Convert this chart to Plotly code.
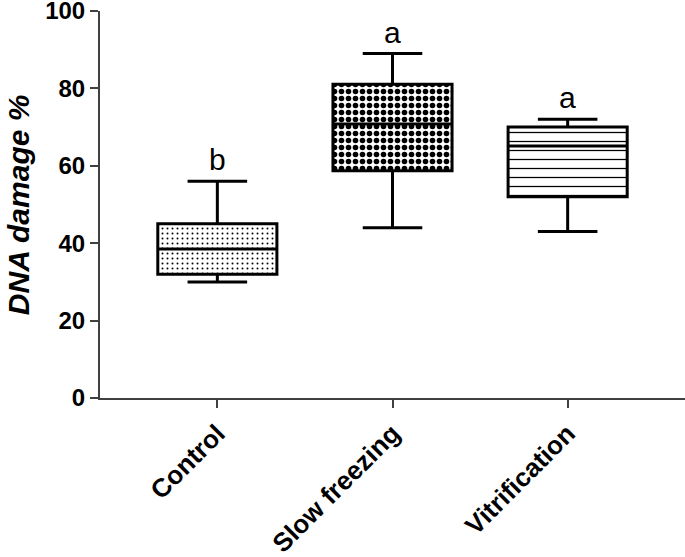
import plotly.graph_objects as go

groups = ['Control', 'Slow freezing', 'Vitrification']
minimum = [30, 44, 43]
q1 = [32, 58.7, 52]
median = [38.5, 70.8, 65.1]
q3 = [45, 81.1, 70]
maximum = [56, 89, 72]
letters = ['b', 'a', 'a']

shapes = ['.', '.', '-']
sizes = [5, 7, 9]
solid = [0.12, 0.5, 0.14]

font = 'Liberation Sans, Arial, sans-serif'

fig = go.Figure()

# patterned fill of each box, drawn as a bar from Q1 to Q3
fig.add_trace(go.Bar(
    x=groups,
    y=[b - a for a, b in zip(q1, q3)],
    base=q1,
    width=0.68,
    marker=dict(
        color='white',
        line=dict(width=0),
        pattern=dict(shape=shapes, size=sizes, solidity=solid,
                     fgcolor='black', bgcolor='white', fillmode='replace'),
    ),
    hoverinfo='skip',
    showlegend=False,
))

# outline, median and min-max whiskers
fig.add_trace(go.Box(
    x=groups,
    q1=q1,
    median=median,
    q3=q3,
    lowerfence=minimum,
    upperfence=maximum,
    width=0.68,
    whiskerwidth=0.5,
    fillcolor='rgba(0,0,0,0)',
    line=dict(color='black', width=3),
    boxpoints=False,
    hoverinfo='skip',
    showlegend=False,
))

for g, top, txt in zip(groups, maximum, letters):
    fig.add_annotation(x=g, y=top, text=txt, showarrow=False,
                       yanchor='bottom', yshift=3,
                       font=dict(family=font, size=30, color='black'))

# y title as an annotation so it can sit close to the left edge
fig.add_annotation(xref='paper', yref='paper', x=-0.139, y=0.5,
                   text='<b><i>DNA damage %</i></b>', textangle=-90,
                   showarrow=False, xanchor='center', yanchor='middle',
                   font=dict(family=font, size=30, color='black'))

fig.update_layout(
    width=685, height=557,
    margin=dict(l=100, r=0, t=11, b=159),
    paper_bgcolor='white', plot_bgcolor='white',
    font=dict(family=font, color='black'),
    bargap=0,
)

fig.update_xaxes(
    type='category',
    range=[-0.67, 2.67],
    automargin=False,
    showline=True, linecolor='#404040', linewidth=2,
    ticks='outside', ticklen=8, tickwidth=2, tickcolor='#404040',
    tickangle=-45,
    tickfont=dict(family=font, size=26, color='black', weight='bold'),
    ticklabeloverflow='allow',
    showgrid=False, zeroline=False,
)

fig.update_yaxes(
    range=[0, 100],
    automargin=False,
    tickvals=[0, 20, 40, 60, 80, 100],
    showline=True, linecolor='#404040', linewidth=2,
    ticks='outside', ticklen=8, tickwidth=2, tickcolor='#404040',
    tickfont=dict(family=font, size=24, color='black', weight='bold'),
    ticklabeloverflow='allow',
    showgrid=False, zeroline=False,
)

# page body has a default margin; drop it so the figure sits at the corner
fig.write_html('out.html', config={'displayModeBar': False},
               post_script="document.body.style.margin='0';")
